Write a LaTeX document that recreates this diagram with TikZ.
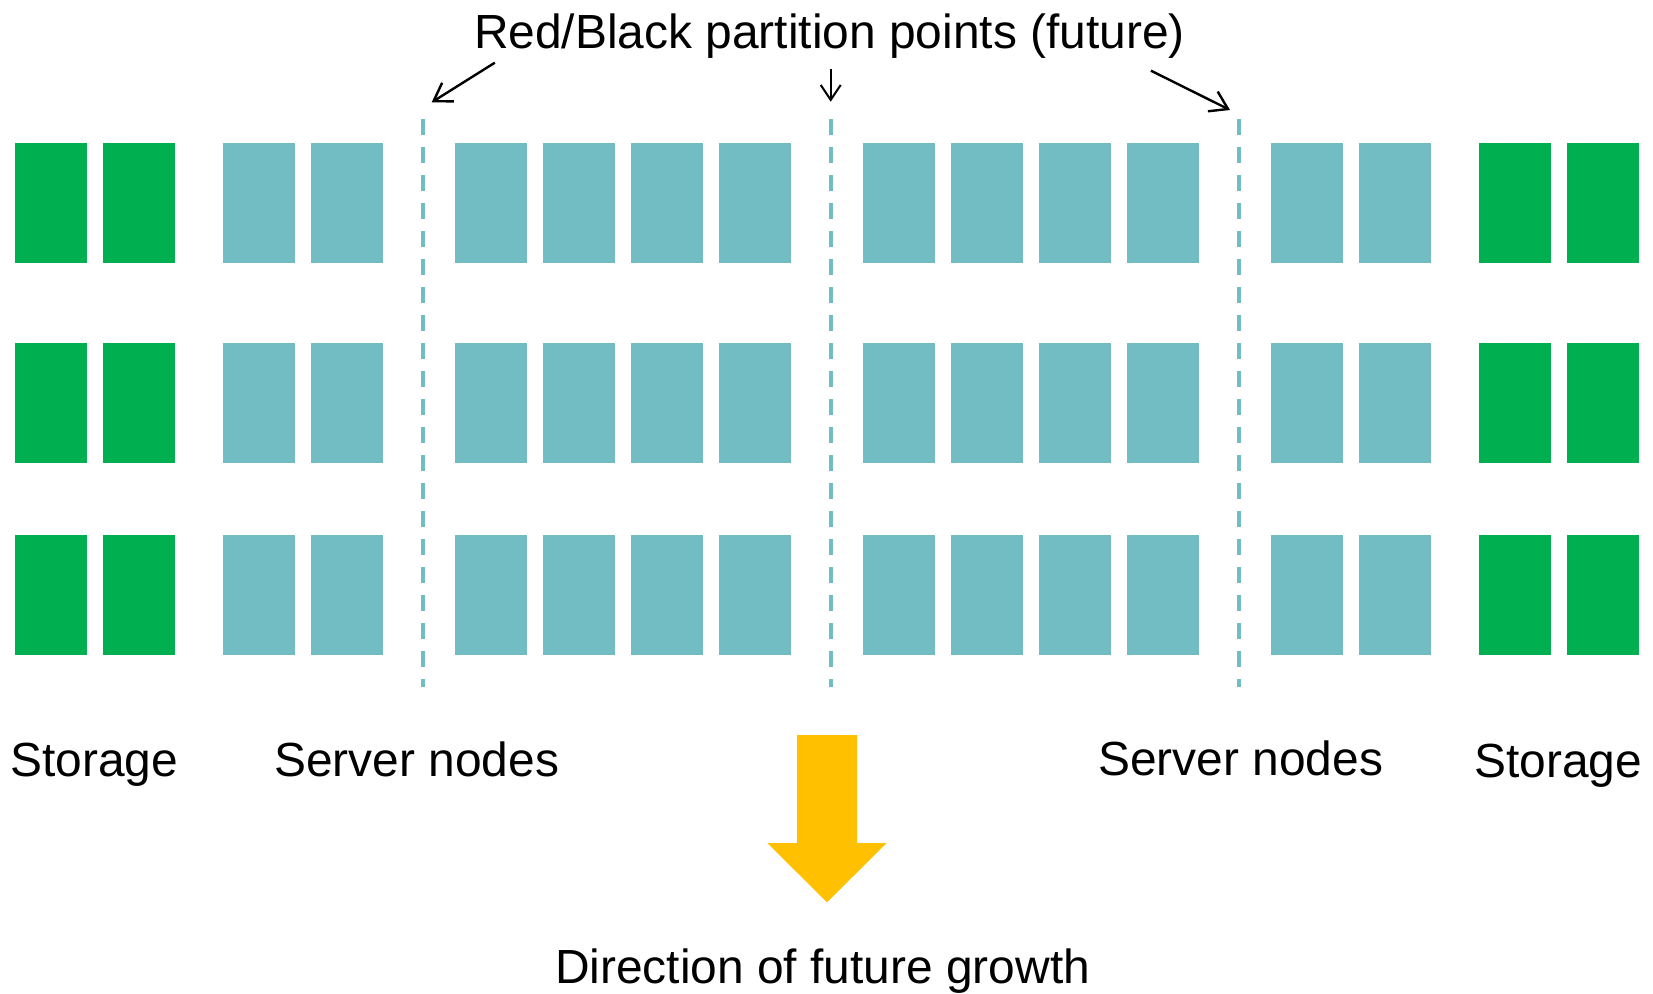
\documentclass[tikz,border=0pt]{standalone}
\usepackage{fontspec}
\setmainfont{Liberation Sans}
\usetikzlibrary{arrows.meta}
\definecolor{storegreen}{HTML}{00B050}
\definecolor{serverteal}{HTML}{72BDC4}
\definecolor{growthgold}{HTML}{FFC000}
\begin{document}
\begin{tikzpicture}[x=1pt,y=-1pt,
  rack/.style={rectangle,inner sep=0pt,minimum width=72pt,minimum height=120pt,draw=none},
  storebox/.style={rack,fill=storegreen},
  serverbox/.style={rack,fill=serverteal},
  partline/.style={serverteal,line width=3.8pt,dash pattern=on 16pt off 12pt},
  pointer/.style={black,line width=2.4pt,-{Straight Barb[length=17pt,width=22pt]}},
  label/.style={inner sep=0pt,anchor=base,font=\fontsize{47.9}{58}\selectfont}]
  \useasboundingbox (0,0) rectangle (1653,993);

  % racks: three rows, storage at both ends, server nodes between
  \foreach \r/\y in {1/203,2/403,3/595}{
    \foreach \c/\x in {1/51,2/139,15/1515,16/1603}
      \node[storebox] (s-\r-\c) at (\x,\y) {};
    \foreach \c/\x in {3/259,4/347,5/491,6/579,7/667,8/755,9/899,10/987,11/1075,12/1163,13/1307,14/1395}
      \node[serverbox] (n-\r-\c) at (\x,\y) {};
  }

  % red/black partition lines
  \foreach \i/\x in {1/423,2/831,3/1239}{
    \coordinate (pt-\i) at (\x,119);
    \coordinate (pb-\i) at (\x,686.7);
    \draw[partline] (pt-\i) -- (pb-\i);
  }

  % title and pointers to the partition lines
  \node[label] (title) at (829.5,48.3) {Red/Black partition points (future)};
  \coordinate (a1s) at (494.8,62.7);  \coordinate (a1e) at (431.7,102.3);
  \coordinate (a2s) at (830.7,69.3);  \coordinate (a2e) at (830.7,101.7);
  \coordinate (a3s) at (1151,70.7);   \coordinate (a3e) at (1230,110);
  \draw[pointer] (a1s) -- (a1e);
  \draw[pointer,line width=2pt,-{Straight Barb[length=15pt,width=20pt]}] (a2s) -- (a2e);
  \draw[pointer] (a3s) -- (a3e);

  % group labels
  \node[label] (stL) at (94.2,776) {Storage};
  \node[label] (svL) at (416.8,776) {Server nodes};
  \node[label] (svR) at (1240.7,775) {Server nodes};
  \node[label] (stR) at (1558.1,777.7) {Storage};

  % growth arrow
  \fill[growthgold] (797,735) -- (857,735) -- (857,843) -- (886.7,843)
    -- (827,902.3) -- (767.3,843) -- (797,843) -- cycle;
  \node[label] (growth) at (822.6,983.3) {Direction of future growth};
\end{tikzpicture}
\end{document}
